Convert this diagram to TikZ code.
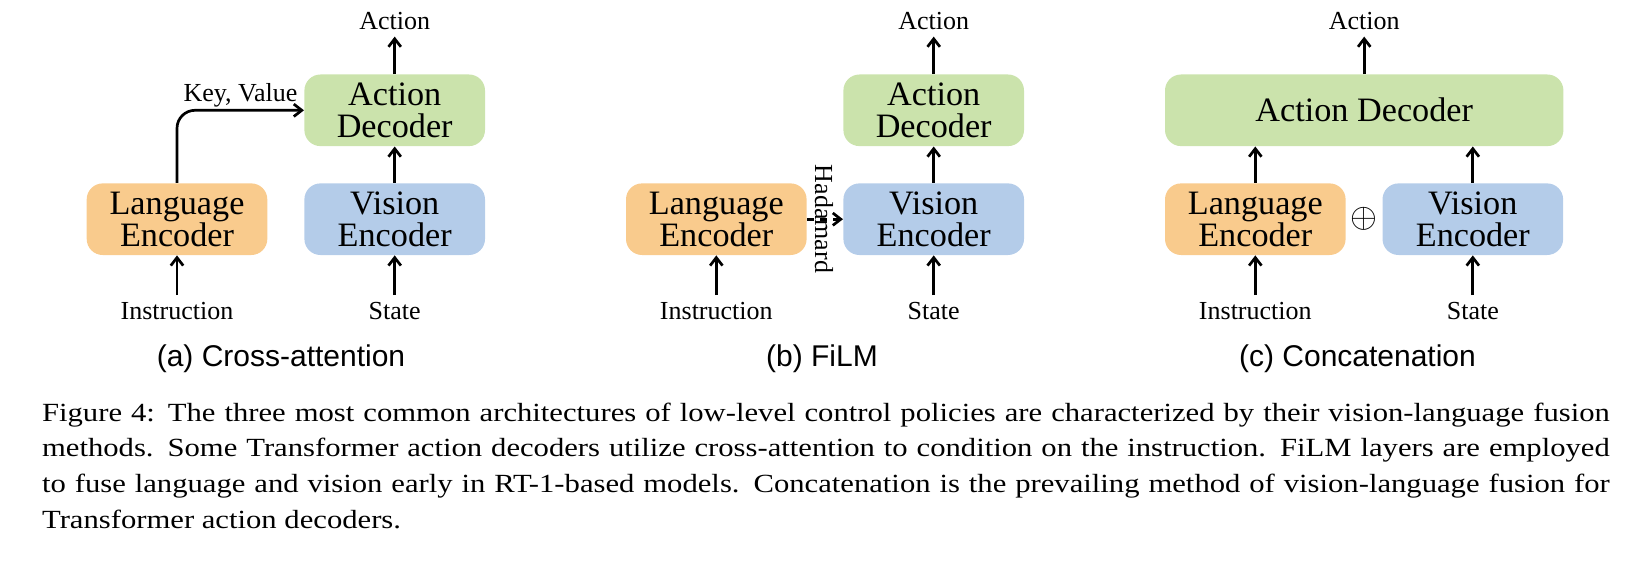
\documentclass[tikz,border=0pt]{standalone}
\usepackage{fontspec}
\setmainfont{Liberation Serif}
\setsansfont{Liberation Sans}
\newfontfamily\capfont[FakeStretch=1.17]{Liberation Serif}
\usepackage{amsmath}
\usepackage{tikz}
\usetikzlibrary{arrows.meta}
\definecolor{langorange}{HTML}{F9CB8D}
\definecolor{actgreen}{HTML}{CBE3AC}
\definecolor{visblue}{HTML}{B4CCE9}

\begin{document}
\begin{tikzpicture}[x=0.5pt,y=-0.5pt,
	block/.style={rectangle,rounded corners=8pt,inner sep=0pt,minimum width=90.3pt,minimum height=35.8pt,align=center,font=\fontsize{17.1}{15.9}\selectfont},
	lang/.style={block,fill=langorange},
	vis/.style={block,fill=visblue},
	dec/.style={block,fill=actgreen},
	lbl/.style={anchor=base,font=\fontsize{13}{15}\selectfont},
	sub/.style={anchor=base,font=\sffamily\fontsize{15}{18}\selectfont},
	arr/.style={-{Straight Barb[length=4pt,width=6.2pt]},line width=1.35pt}]
\useasboundingbox (0,0) rectangle (1631,561);

% (a) cross-attention
\node [lang] (le1) at (177,219.2) {Language\\Encoder};
\node [vis] (ve1) at (394.7,219.2) {Vision\\Encoder};
\node [dec] (ad1) at (394.7,110.3) {Action\\Decoder};
\node [lbl] (in1) at (177,319.3) {Instruction};
\node [lbl] (st1) at (394.7,319.3) {State};
\node [lbl] (ac1) at (394.7,29.3) {Action};
\draw [arr] (in1) -- (le1);
\draw [arr] (st1) -- (ve1);
\draw [arr] (ve1) -- (ad1);
\draw [arr] (ad1) -- (ac1);
\draw [arr,rounded corners=9pt] (le1.north) |- (ad1.west)
	node [pos=0.75,above,inner sep=1pt,font=\fontsize{13}{15}\selectfont] {Key, Value};
\node [sub] (sa) at (281,366) {(a) Cross-attention};

% (b) FiLM
\node [lang] (le2) at (716.3,219.2) {Language\\Encoder};
\node [vis] (ve2) at (933.7,219.2) {Vision\\Encoder};
\node [dec] (ad2) at (933.7,110.3) {Action\\Decoder};
\node [lbl] (in2) at (716.3,319.3) {Instruction};
\node [lbl] (st2) at (933.7,319.3) {State};
\node [lbl] (ac2) at (933.7,29.3) {Action};
\draw [arr] (in2) -- (le2);
\draw [arr] (st2) -- (ve2);
\draw [arr] (ve2) -- (ad2);
\draw [arr] (ad2) -- (ac2);
\draw [arr,dash pattern=on 3.5pt off 3pt] (le2.east) -- (ve2.west);
\node [rotate=-90,inner sep=0pt,font=\fontsize{13}{15}\selectfont] (hd) at (824,219) {Hadamard};
\node [sub] (sb) at (822,366) {(b) FiLM};

% (c) concatenation
\node [lang] (le3) at (1255.3,219.2) {Language\\Encoder};
\node [vis] (ve3) at (1472.8,219.2) {Vision\\Encoder};
\node [dec,minimum width=199.2pt] (ad3) at (1364.2,110.3) {Action Decoder};
\node [lbl] (in3) at (1255.3,319.3) {Instruction};
\node [lbl] (st3) at (1472.8,319.3) {State};
\node [lbl] (ac3) at (1364.2,29.3) {Action};
\node [inner sep=0pt,font=\fontsize{17}{20}\selectfont] (op) at (1364,219) {$\oplus$};
\draw [arr] (in3) -- (le3);
\draw [arr] (st3) -- (ve3);
\draw [arr] (le3.north) -- (le3.north |- ad3.south);
\draw [arr] (ve3.north) -- (ve3.north |- ad3.south);
\draw [arr] (ad3) -- (ac3);
\node [sub] (sc) at (1357.5,366) {(c) Concatenation};

% caption
\node [anchor=north west,inner sep=0pt,text width=783.8pt,align=justify,font=\capfont\fontsize{13.1}{17.8}\selectfont] (cap) at (41.7,402.5)
	{\hyphenpenalty=10000\exhyphenpenalty=10000
	Figure 4: The three most common architectures of low-level control policies are characterized by their vision-language fusion\linebreak
	methods. Some Transformer action decoders utilize cross-attention to condition on the instruction. FiLM layers are employed\linebreak
	to fuse language and vision early in RT-1-based models. Concatenation is the prevailing method of vision-language fusion for\linebreak
	Transformer action decoders.};
\end{tikzpicture}
\end{document}
